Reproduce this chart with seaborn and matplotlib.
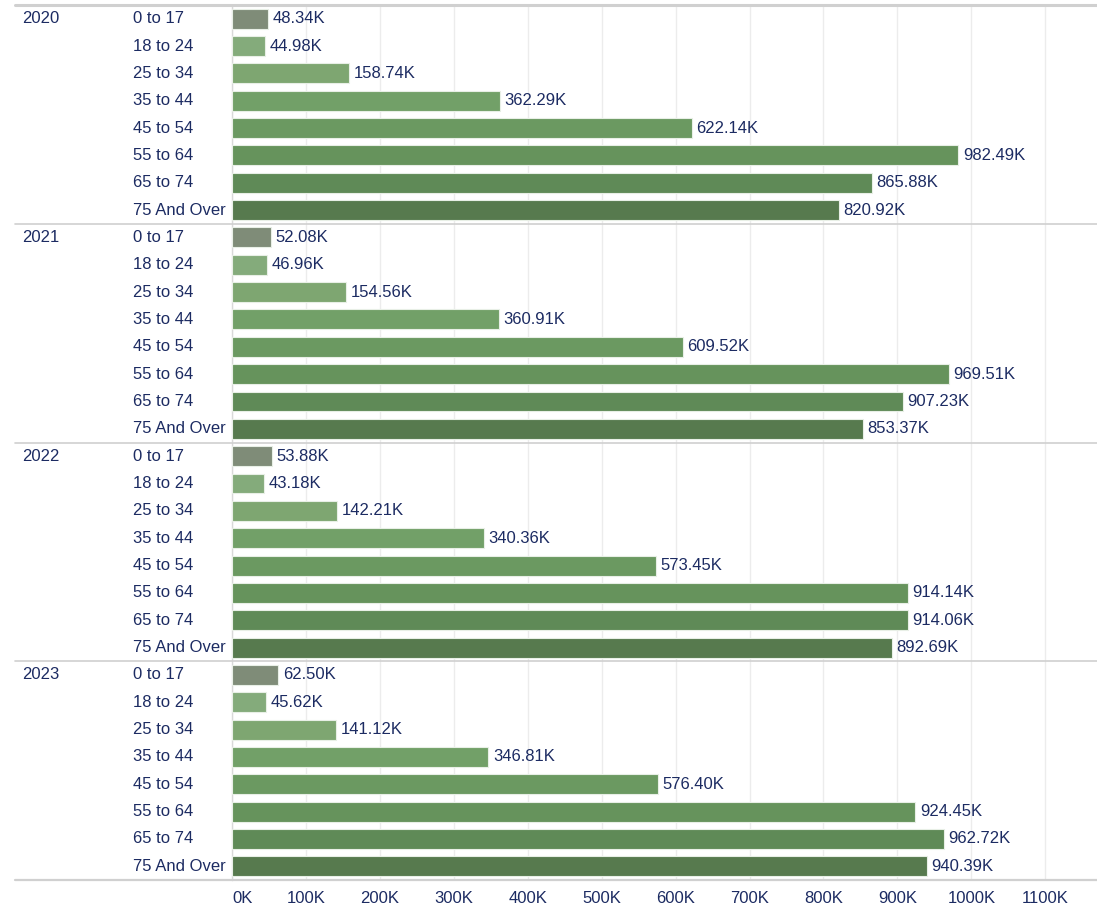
import pandas as pd
import matplotlib.pyplot as plt
import matplotlib.transforms as mtransforms
import seaborn as sns

# --- data (thousands) ---
years = ["2020", "2021", "2022", "2023"]
ages = ["0 to 17", "18 to 24", "25 to 34", "35 to 44",
        "45 to 54", "55 to 64", "65 to 74", "75 And Over"]
v2020 = [48.34, 44.98, 158.74, 362.29, 622.14, 982.49, 865.88, 820.92]
v2021 = [52.08, 46.96, 154.56, 360.91, 609.52, 969.51, 907.23, 853.37]
v2022 = [53.88, 43.18, 142.21, 340.36, 573.45, 914.14, 914.06, 892.69]
v2023 = [62.50, 45.62, 141.12, 346.81, 576.40, 924.45, 962.72, 940.39]
xticks = [0, 100, 200, 300, 400, 500, 600, 700, 800, 900, 1000, 1100]

colors = ["#7f8c78", "#84ab7b", "#7ea671", "#72a068",
          "#6b9961", "#66935c", "#5f8a57", "#577a4e"]
txt = "#1c2b62"

rows = []
for yr, vals in zip(years, [v2020, v2021, v2022, v2023]):
    for a, v in zip(ages, vals):
        rows.append({"year": yr, "age": a, "value": v, "row": f"{yr}|{a}"})
df = pd.DataFrame(rows)

sns.set_style("white")
plt.rcParams["font.family"] = ["Liberation Sans", "DejaVu Sans"]

fig = plt.figure(figsize=(10.97, 9.07), dpi=100)
ax = fig.add_axes([232 / 1097, 1 - 880 / 907, 1 - 232 / 1097, (880 - 5) / 907])

sns.barplot(data=df, x="value", y="row", hue="age", palette=colors,
            saturation=1, dodge=False, legend=False, width=0.73, ax=ax,
            edgecolor="#e8efe6", linewidth=0.8, zorder=3)

ax.set_xlim(0, 1170)
ax.set_ylim(31.5, -0.5)
ax.set_xticks(xticks)
ax.set_xticklabels([f"{t}K" for t in xticks], color=txt, fontsize=12)
ax.get_xticklabels()[0].set_horizontalalignment("left")
ax.tick_params(axis="x", length=0, pad=8)
ax.set_yticks([])
ax.set_xlabel("")
ax.set_ylabel("")
ax.grid(axis="x", color="#ececec", linewidth=1, zorder=0)
for s in ["top", "right", "bottom"]:
    ax.spines[s].set_visible(False)
ax.spines["left"].set_color("#d9d9d9")
ax.spines["left"].set_linewidth(1)

# value labels
for i, r in df.iterrows():
    ax.text(r["value"] + 6, i, f"{r['value']:.2f}K", va="center", ha="left",
            color=txt, fontsize=12, zorder=4)

# row labels and group separators
trans = mtransforms.blended_transform_factory(ax.transAxes, ax.transData)
x_left = (15 - 232) / (1097 - 232)
for g, yr in enumerate(years):
    ax.text((22 - 232) / 865, g * 8, yr, transform=trans, va="center",
            ha="left", color=txt, fontsize=12)
    for k, a in enumerate(ages):
        ax.text((133 - 232) / 865, g * 8 + k, a, transform=trans,
                va="center", ha="left", color=txt, fontsize=12)
for yline, lw in [(-0.5, 2.2), (7.5, 1.2), (15.5, 1.2), (23.5, 1.2), (31.5, 1.6)]:
    ax.plot([x_left, 1], [yline, yline], transform=trans, color="#d0d0d0",
            linewidth=lw, clip_on=False, zorder=5)

fig.savefig("out.png", dpi=100)
